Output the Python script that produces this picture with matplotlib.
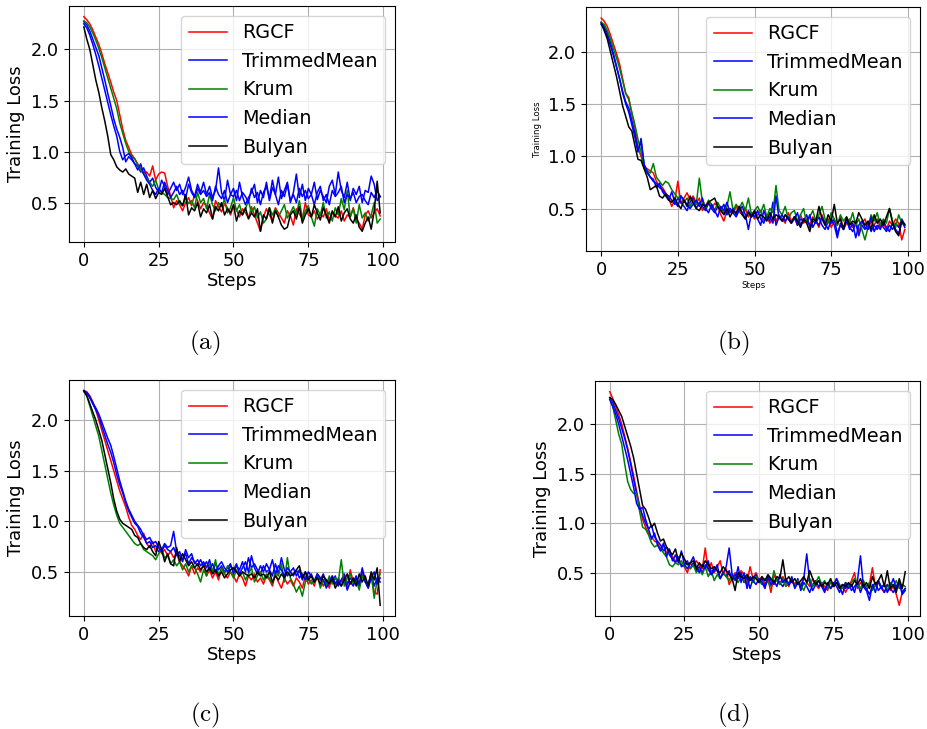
import numpy as np
import matplotlib
matplotlib.use('Agg')
import matplotlib.pyplot as plt

plt.rcParams['font.family'] = 'DejaVu Sans'
plt.rcParams['mathtext.fontset'] = 'cm'

# 数据：训练损失 (单位 0.01)，每条曲线 100 步
steps = np.arange(100)
methods = ['RGCF', 'TrimmedMean', 'Krum', 'Median', 'Bulyan']
colors = ['red', 'blue', 'green', 'blue', 'black']
captions = ['(a)', '(b)', '(c)', '(d)']

# ---- (a) ----
a_rgcf = [232, 229, 225, 219, 212, 205, 196, 186, 177, 168,
          158, 150, 136, 122, 111, 104, 97, 93, 88, 84,
          79, 80, 76, 86, 72, 78, 80, 79, 66, 57,
          45, 52, 48, 42, 50, 55, 47, 58, 52, 44,
          50, 47, 40, 34, 52, 46, 41, 49, 45, 38,
          47, 43, 36, 44, 40, 35, 46, 38, 30, 22,
          36, 44, 38, 32, 45, 40, 35, 30, 42, 37,
          28, 44, 39, 34, 50, 38, 36, 42, 34, 39,
          36, 44, 33, 40, 37, 35, 42, 32, 38, 36,
          45, 34, 30, 24, 38, 42, 35, 40, 44, 37]
a_trimmed = [227, 224, 218, 210, 202, 194, 182, 170, 157, 145,
             132, 122, 114, 104, 90, 95, 92, 88, 86, 80,
             84, 76, 70, 74, 65, 60, 72, 66, 58, 64,
             70, 62, 68, 58, 65, 75, 62, 56, 68, 60,
             70, 58, 66, 55, 62, 84, 60, 52, 72, 58,
             64, 52, 70, 56, 48, 55, 60, 68, 50, 62,
             55, 70, 52, 65, 58, 75, 54, 62, 70, 50,
             60, 78, 55, 68, 52, 64, 58, 70, 53, 62,
             56, 50, 66, 72, 58, 80, 62, 55, 70, 52,
             64, 58, 66, 50, 62, 60, 76, 68, 52, 56]
a_krum = [228, 226, 222, 216, 209, 201, 192, 182, 172, 162,
          152, 142, 128, 118, 108, 100, 95, 93, 87, 82,
          78, 74, 70, 66, 72, 63, 60, 58, 55, 54,
          53, 58, 50, 47, 55, 49, 52, 45, 60, 50,
          54, 44, 58, 48, 42, 50, 46, 53, 40, 45,
          55, 42, 48, 38, 44, 52, 40, 46, 35, 41,
          30, 34, 45, 38, 44, 36, 42, 48, 35, 40,
          46, 38, 52, 34, 42, 47, 36, 27, 44, 38,
          50, 35, 41, 32, 45, 38, 54, 43, 62, 36,
          44, 30, 48, 35, 40, 32, 38, 50, 30, 34]
a_median = [225, 221, 214, 205, 195, 184, 172, 160, 148, 136,
            125, 115, 100, 92, 96, 98, 94, 88, 82, 88,
            78, 72, 68, 62, 58, 64, 60, 70, 62, 55,
            60, 66, 58, 62, 54, 68, 60, 55, 64, 58,
            62, 56, 60, 52, 66, 58, 54, 62, 50, 58,
            56, 62, 52, 60, 56, 50, 64, 55, 60, 48,
            60, 66, 54, 72, 58, 48, 62, 56, 68, 52,
            58, 50, 64, 56, 62, 54, 58, 48, 60, 66,
            52, 58, 48, 62, 56, 60, 66, 50, 58, 54,
            60, 50, 56, 58, 52, 48, 60, 55, 62, 56]
a_bulyan = [222, 210, 200, 185, 170, 158, 143, 130, 115, 97,
            92, 85, 82, 80, 83, 78, 76, 74, 60, 70,
            58, 68, 55, 62, 54, 60, 58, 64, 56, 48,
            50, 48, 52, 47, 58, 38, 45, 42, 50, 36,
            44, 40, 48, 34, 46, 42, 50, 38, 44, 40,
            48, 32, 42, 38, 45, 34, 40, 36, 44, 22,
            38, 34, 45, 30, 42, 36, 28, 24, 26, 38,
            42, 34, 46, 30, 38, 44, 36, 48, 40, 33,
            45, 38, 30, 42, 36, 46, 32, 40, 44, 34,
            30, 38, 26, 22, 30, 36, 24, 42, 71, 40]

# ---- (b) ----
b_rgcf = [232, 229, 224, 216, 207, 198, 188, 174, 160, 156,
          140, 128, 108, 100, 90, 88, 86, 84, 76, 72,
          70, 65, 60, 52, 58, 76, 55, 60, 65, 58,
          62, 55, 60, 48, 53, 57, 50, 55, 52, 44,
          38, 48, 50, 45, 52, 47, 44, 50, 42, 46,
          40, 44, 48, 38, 42, 36, 40, 38, 44, 40,
          36, 46, 38, 42, 34, 44, 36, 40, 34, 42,
          38, 32, 44, 36, 40, 32, 38, 34, 42, 30,
          36, 40, 32, 38, 28, 36, 40, 30, 38, 34,
          40, 32, 36, 30, 38, 34, 40, 36, 20, 30]
b_trimmed = [228, 224, 218, 209, 198, 186, 174, 162, 152, 146,
             134, 122, 105, 114, 92, 86, 80, 76, 74, 70,
             68, 64, 62, 58, 54, 60, 56, 52, 48, 56,
             60, 50, 56, 52, 48, 55, 50, 46, 52, 48,
             54, 44, 50, 46, 42, 48, 52, 44, 30, 46,
             42, 48, 40, 36, 44, 38, 56, 34, 42, 38,
             44, 40, 36, 42, 34, 40, 38, 44, 32, 38,
             36, 42, 34, 30, 38, 36, 40, 26, 34, 30,
             38, 32, 28, 36, 24, 34, 30, 36, 28, 34,
             30, 36, 32, 28, 34, 30, 36, 32, 40, 34]
b_krum = [228, 226, 220, 212, 203, 194, 184, 172, 160, 154,
          142, 130, 116, 104, 88, 86, 84, 93, 80, 76,
          72, 76, 74, 68, 64, 60, 62, 56, 60, 52,
          58, 54, 79, 56, 50, 58, 54, 48, 56, 50,
          46, 52, 66, 48, 54, 50, 56, 48, 60, 44,
          48, 52, 46, 54, 42, 50, 46, 72, 48, 44,
          52, 40, 46, 48, 38, 44, 50, 36, 42, 48,
          38, 44, 52, 40, 36, 46, 40, 34, 44, 38,
          42, 36, 46, 34, 40, 30, 20, 32, 44, 38,
          46, 34, 40, 36, 50, 38, 32, 44, 36, 34]
b_median = [226, 222, 215, 206, 196, 185, 174, 160, 150, 142,
            130, 118, 104, 117, 92, 84, 80, 78, 70, 74,
            66, 62, 58, 66, 56, 52, 62, 58, 54, 50,
            54, 58, 52, 60, 50, 46, 54, 48, 42, 52,
            48, 56, 46, 50, 44, 52, 46, 40, 48, 42,
            46, 40, 34, 48, 40, 42, 36, 62, 40, 44,
            38, 42, 36, 40, 46, 34, 40, 36, 44, 32,
            38, 34, 42, 36, 30, 40, 34, 22, 36, 32,
            40, 30, 36, 22, 34, 38, 32, 30, 42, 28,
            34, 30, 38, 32, 28, 36, 30, 26, 38, 32]
b_bulyan = [227, 220, 212, 200, 188, 176, 162, 148, 138, 128,
            124, 110, 97, 96, 88, 80, 68, 70, 72, 62,
            60, 64, 58, 56, 60, 54, 50, 58, 52, 62,
            55, 50, 48, 54, 52, 56, 58, 60, 52, 48,
            44, 50, 42, 48, 46, 52, 44, 40, 46, 42,
            48, 40, 44, 42, 38, 46, 40, 44, 42, 38,
            44, 40, 36, 42, 38, 32, 40, 36, 28, 40,
            38, 52, 40, 34, 44, 38, 54, 36, 40, 30,
            42, 34, 38, 36, 46, 40, 34, 38, 30, 44,
            36, 40, 34, 42, 50, 36, 28, 24, 38, 35]

# ---- (c) ----
c_rgcf = [229, 228, 224, 218, 210, 200, 190, 180, 170, 160,
          150, 140, 130, 122, 114, 104, 96, 92, 86, 82,
          88, 78, 74, 80, 70, 76, 68, 72, 66, 70,
          64, 68, 60, 56, 52, 46, 56, 48, 54, 50,
          58, 46, 52, 44, 50, 42, 54, 48, 44, 50,
          46, 40, 48, 44, 36, 46, 42, 48, 40, 44,
          38, 46, 42, 36, 48, 40, 34, 44, 38, 42,
          36, 44, 40, 34, 46, 38, 42, 36, 48, 44,
          36, 42, 34, 46, 38, 44, 40, 46, 34, 52,
          40, 44, 36, 48, 42, 34, 46, 30, 28, 52]
c_trimmed = [229, 227, 222, 216, 210, 204, 194, 185, 176, 168,
             158, 146, 136, 128, 118, 110, 104, 98, 95, 88,
             84, 78, 80, 74, 76, 70, 72, 78, 74, 76,
             90, 70, 66, 60, 72, 64, 68, 58, 62, 56,
             60, 54, 62, 50, 58, 52, 56, 50, 54, 58,
             48, 56, 52, 60, 50, 64, 54, 58, 52, 48,
             56, 50, 52, 46, 58, 48, 64, 52, 46, 50,
             54, 46, 52, 42, 50, 44, 48, 40, 46, 42,
             48, 38, 44, 40, 46, 36, 42, 48, 38, 44,
             40, 46, 36, 54, 42, 38, 48, 36, 44, 40]
c_krum = [228, 224, 214, 204, 194, 184, 170, 156, 142, 128,
          116, 106, 98, 94, 90, 86, 82, 78, 76, 78,
          72, 70, 68, 66, 62, 68, 72, 64, 66, 58,
          62, 56, 60, 52, 58, 50, 56, 54, 48, 40,
          52, 46, 58, 50, 62, 46, 54, 48, 56, 50,
          44, 52, 46, 50, 42, 48, 54, 40, 46, 50,
          42, 48, 44, 38, 50, 46, 58, 40, 64, 44,
          38, 30, 36, 26, 40, 44, 38, 42, 48, 34,
          42, 36, 46, 38, 44, 40, 62, 36, 44, 48,
          38, 42, 32, 46, 40, 36, 48, 24, 42, 48]
c_median = [229, 227, 223, 217, 212, 206, 198, 190, 182, 175,
            164, 152, 140, 130, 120, 112, 106, 100, 96, 92,
            86, 82, 84, 78, 80, 74, 70, 76, 72, 70,
            74, 66, 70, 62, 68, 58, 64, 60, 56, 62,
            56, 60, 52, 58, 50, 56, 60, 54, 50, 56,
            52, 58, 48, 54, 60, 50, 66, 54, 48, 56,
            50, 58, 52, 62, 48, 56, 52, 46, 54, 50,
            46, 52, 44, 48, 42, 50, 46, 40, 48, 44,
            42, 34, 40, 46, 38, 42, 36, 44, 32, 40,
            36, 44, 38, 52, 40, 34, 44, 50, 38, 44]
c_bulyan = [229, 224, 216, 208, 200, 190, 180, 166, 152, 138,
            122, 110, 102, 98, 96, 94, 92, 86, 84, 78,
            74, 72, 76, 70, 66, 80, 72, 60, 68, 58,
            56, 74, 60, 68, 62, 56, 60, 54, 58, 52,
            56, 50, 54, 48, 52, 46, 50, 44, 48, 52,
            54, 50, 46, 50, 48, 46, 48, 44, 50, 46,
            48, 44, 50, 40, 46, 42, 48, 44, 50, 46,
            48, 52, 56, 44, 50, 42, 46, 40, 44, 38,
            46, 42, 38, 44, 34, 40, 36, 42, 48, 38,
            44, 36, 48, 40, 46, 36, 50, 42, 54, 17]

# ---- (d) ----
d_rgcf = [233, 226, 218, 210, 200, 188, 176, 162, 148, 132,
          118, 104, 96, 90, 86, 82, 80, 74, 78, 70,
          72, 66, 62, 64, 58, 56, 50, 60, 56, 62,
          58, 54, 75, 52, 60, 50, 56, 62, 48, 54,
          38, 44, 50, 46, 52, 48, 40, 56, 44, 50,
          42, 46, 38, 44, 30, 48, 42, 38, 46, 40,
          36, 44, 38, 42, 34, 46, 40, 36, 44, 38,
          34, 40, 36, 32, 42, 36, 40, 34, 38, 30,
          36, 42, 50, 34, 40, 36, 32, 38, 55, 36,
          40, 34, 30, 38, 32, 36, 28, 17, 30, 34]
d_trimmed = [227, 222, 214, 206, 196, 186, 174, 160, 144, 130,
             116, 108, 100, 94, 98, 86, 82, 78, 72, 76,
             68, 64, 60, 66, 56, 58, 62, 54, 60, 52,
             56, 50, 58, 54, 48, 56, 52, 44, 50, 46,
             52, 42, 48, 44, 50, 40, 46, 34, 44, 48,
             40, 44, 36, 46, 42, 38, 44, 40, 36, 42,
             38, 42, 36, 44, 32, 40, 36, 30, 38, 42,
             36, 40, 32, 38, 34, 40, 36, 30, 38, 34,
             38, 32, 36, 40, 30, 38, 34, 28, 36, 40,
             32, 36, 30, 38, 34, 30, 36, 42, 30, 34]
d_krum = [226, 218, 204, 190, 180, 160, 142, 134, 130, 130,
          112, 96, 94, 88, 80, 76, 78, 74, 70, 66,
          58, 56, 60, 58, 62, 56, 60, 54, 58, 50,
          54, 48, 56, 46, 52, 42, 48, 44, 50, 46,
          42, 48, 44, 40, 46, 42, 38, 44, 40, 46,
          42, 38, 44, 40, 36, 52, 42, 38, 44, 36,
          40, 44, 36, 42, 38, 32, 40, 44, 36, 40,
          46, 38, 42, 34, 40, 36, 44, 38, 34, 40,
          36, 40, 44, 38, 34, 42, 36, 40, 32, 38,
          42, 36, 38, 32, 40, 36, 42, 34, 38, 36]
d_median = [225, 218, 210, 200, 188, 176, 164, 150, 136, 120,
            114, 116, 104, 94, 84, 90, 78, 72, 80, 66,
            74, 62, 68, 60, 72, 58, 54, 60, 66, 56,
            50, 58, 54, 62, 48, 52, 58, 44, 50, 56,
            75, 48, 42, 56, 40, 50, 34, 46, 42, 38,
            44, 40, 34, 46, 38, 42, 36, 48, 40, 44,
            38, 46, 34, 40, 36, 44, 69, 40, 32, 38,
            42, 36, 30, 40, 34, 38, 44, 36, 28, 40,
            34, 38, 30, 42, 67, 36, 32, 22, 38, 30,
            42, 34, 38, 30, 36, 44, 34, 40, 28, 32]
d_bulyan = [227, 225, 220, 214, 208, 198, 188, 178, 166, 150,
            134, 118, 114, 106, 96, 100, 90, 82, 84, 76,
            72, 68, 74, 62, 70, 64, 58, 60, 62, 54,
            60, 56, 62, 58, 54, 56, 52, 50, 56, 52,
            48, 44, 32, 50, 46, 44, 48, 42, 46, 44,
            40, 46, 42, 48, 44, 40, 46, 44, 63, 42,
            46, 40, 44, 38, 42, 46, 40, 52, 44, 38,
            42, 36, 40, 38, 44, 36, 40, 34, 38, 36,
            40, 36, 42, 38, 44, 36, 40, 34, 46, 38,
            42, 48, 36, 52, 34, 38, 30, 44, 34, 51]

panels = [
    [a_rgcf, a_trimmed, a_krum, a_median, a_bulyan],
    [b_rgcf, b_trimmed, b_krum, b_median, b_bulyan],
    [c_rgcf, c_trimmed, c_krum, c_median, c_bulyan],
    [d_rgcf, d_trimmed, d_krum, d_median, d_bulyan],
]

# 子图位置 (像素换算成比例)
W, H = 928, 729
boxes = [(69, 6, 395, 242), (586, 7, 920, 251),
         (69, 380, 395, 616), (595, 381, 920, 616)]
cap_pos = [(205, 343), (733, 343), (205, 715), (733, 715)]

fig = plt.figure(figsize=(9.28, 7.29), dpi=100)

for k, series in enumerate(panels):
    x0, y0, x1, y1 = boxes[k]
    ax = fig.add_axes([x0 / W, 1 - y1 / H, (x1 - x0) / W, (y1 - y0) / H])
    for name, col, vals in zip(methods, colors, series):
        ax.plot(steps, np.array(vals) / 100.0, color=col, lw=1.1, label=name)
    ax.grid(True)
    ax.set_xticks([0, 25, 50, 75, 100])
    ax.set_yticks([0.5, 1.0, 1.5, 2.0])
    ax.tick_params(labelsize=12.8)
    small = 6.2 if k == 1 else 13
    ax.set_xlabel('Steps', fontsize=small, labelpad=2)
    ax.set_ylabel('Training Loss', fontsize=small, labelpad=4)
    ax.legend(loc='upper right', fontsize=13.8)
    cx, cy = cap_pos[k]
    fig.text(cx / W, 1 - cy / H, r'$(\mathrm{%s})$' % 'abcd'[k],
             fontsize=18, ha='center', va='center')

fig.savefig('out.png', dpi=100)
plt.close(fig)
